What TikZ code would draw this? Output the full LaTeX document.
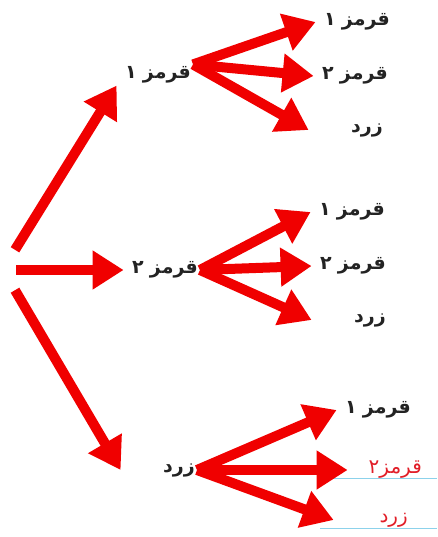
\documentclass[tikz,border=0pt]{standalone}
\usepackage{fontspec}
\usetikzlibrary{arrows.meta}
\newfontfamily\fafont[Script=Arabic]{DejaVu Sans}
\TeXXeTstate=1
\definecolor{cArr}{RGB}{240,0,0}
\definecolor{cTxt}{RGB}{35,35,35}
\definecolor{cRedTxt}{RGB}{225,30,40}
\definecolor{cLine}{RGB}{140,210,235}
\tikzset{
  word/.style={
    text=cTxt, inner sep=2pt, anchor=east,
    text width=72pt, align=right,
    font=\fafont\bfseries\fontsize{19}{22}\selectfont,
  },
  redword/.style={word, text=cRedTxt, font=\fafont\fontsize{20}{23}\selectfont},
  arr/.style={-{Triangle[length=31pt,width=37pt]}, line width=10pt, draw=cArr},
  uline/.style={draw=cLine, line width=0.9pt},
}

\begin{document}
\begin{tikzpicture}[x=1pt,y=-1pt]
\useasboundingbox (0,0) rectangle (437,537);

% ===== root and first level =====
\node[minimum width=2pt, minimum height=40pt, inner sep=0] (root) at (15,270) {};

\node[word] (red1) at (193,75)  {\beginR قرمز ۱\endR};
\node[word] (red2) at (200,270) {\beginR قرمز ۲\endR};
\node[word] (yel)  at (197,470) {\beginR زرد\endR};

% ===== leaves =====
\node[word] (red1a) at (392,22)  {\beginR قرمز ۱\endR};
\node[word] (red1b) at (390,76)  {\beginR قرمز ۲\endR};
\node[word] (red1c) at (385,130) {\beginR زرد\endR};

\node[word] (red2a) at (387,212) {\beginR قرمز ۱\endR};
\node[word] (red2b) at (388,266) {\beginR قرمز ۲\endR};
\node[word] (red2c) at (388,320) {\beginR زرد\endR};

\node[word]    (yela) at (413,410) {\beginR قرمز ۱\endR};
\node[redword] (yelb) at (424,470) {\beginR قرمز۲\endR};
\node[redword] (yelc) at (410,520) {\beginR زرد\endR};

% underlines of the red leaves
\draw[uline] (320,478) -- (437,478);
\draw[uline] (320,528) -- (437,528);

% ===== arrows =====
\draw[arr] (root.north) -- (red1.south west);
\draw[arr] (root.east) -- (red2.west);
\draw[arr] (root.south) -- (yel.west);

\draw[arr] (red1.north east) -- (red1a.west);
\draw[arr] (red1.north east) -- (red1b.west);
\draw[arr] (red1.north east) -- (red1c.west);

\draw[arr] (red2.east) -- (red2a.west);
\draw[arr] (red2.east) -- (red2b.west);
\draw[arr] (red2.east) -- (red2c.west);

\draw[arr] (yel.east) -- (yela.west);
\draw[arr] (yel.east) -- (yelb.west);
\draw[arr] (yel.east) -- (yelc.west);

\end{tikzpicture}
\end{document}
